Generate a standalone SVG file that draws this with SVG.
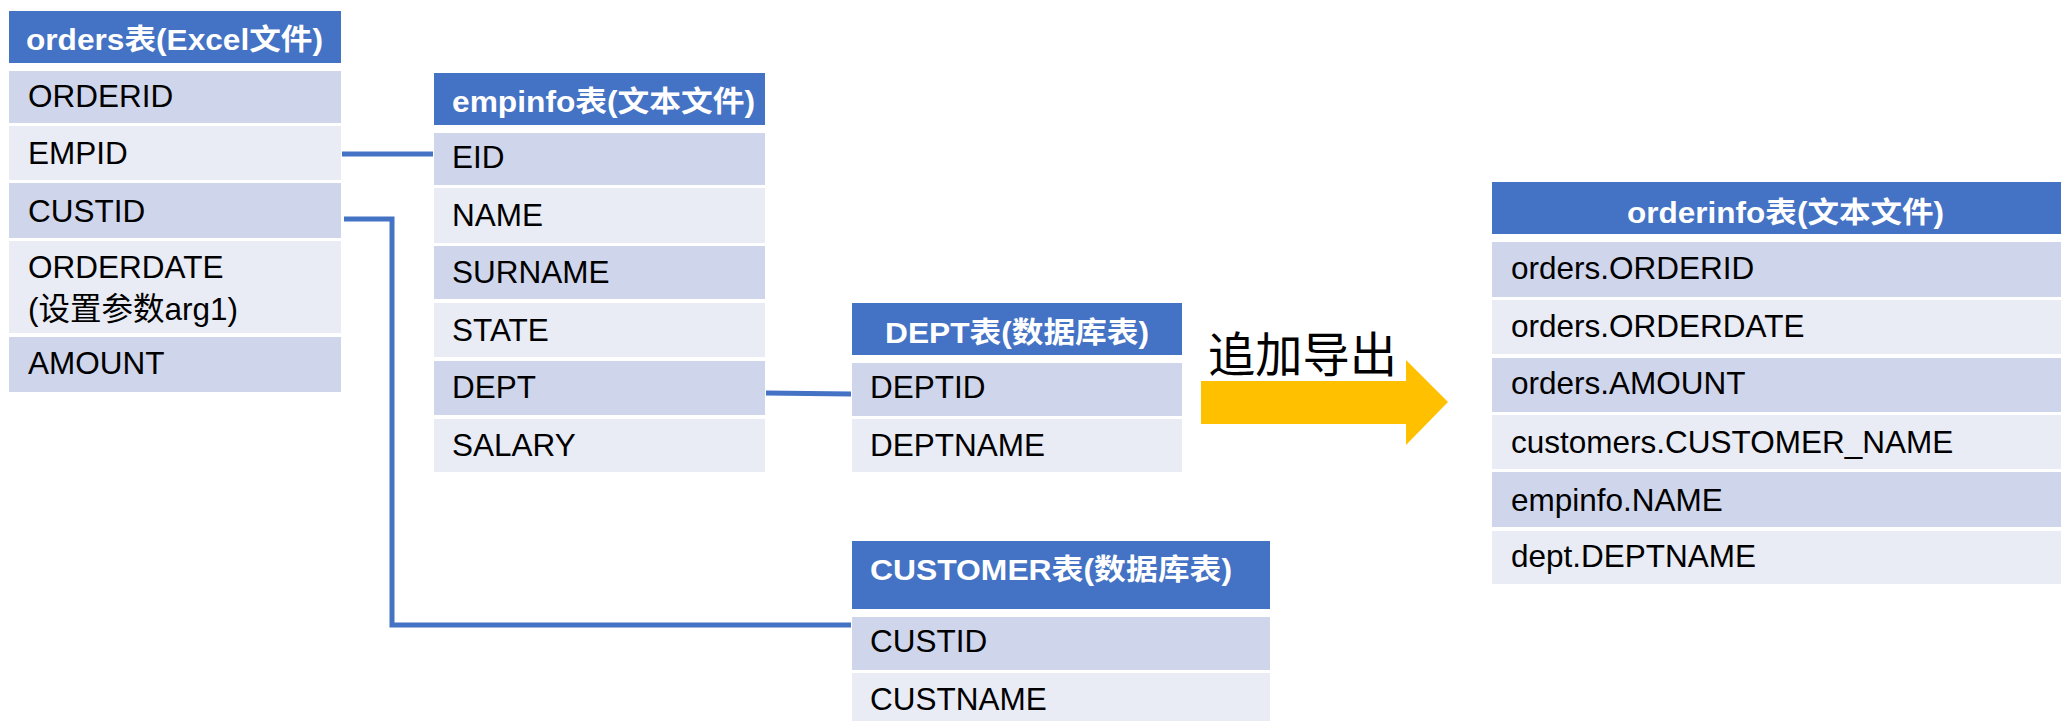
<svg xmlns="http://www.w3.org/2000/svg" width="2061" height="721" viewBox="0 0 2061 721">
<style>
.hd{fill:#4472C4}
.dk{fill:#CFD5EA}
.lt{fill:#E9EBF5}
.ht{font-family:"Liberation Sans","Noto Sans CJK SC",sans-serif;font-weight:bold;font-size:29px;fill:#FFFFFF}
.rt{font-family:"Liberation Sans","Noto Sans CJK SC",sans-serif;font-size:31.5px;fill:#000000}
.cn{fill:none;stroke:#4472C4;stroke-width:5}
</style>
<rect width="2061" height="721" fill="#FFFFFF"/>
<g id="connectors">
<path class="cn" d="M342,154 L433,154"/>
<path class="cn" d="M344,219 L392,219 L392,625 L851,625"/>
<path class="cn" d="M766,393 L851,394"/>
</g>
<g id="orders">
<rect class="hd" x="9" y="11" width="332" height="52"/>
<text class="ht" x="26" y="50" textLength="297" lengthAdjust="spacingAndGlyphs">orders表(Excel文件)</text>
<rect class="dk" x="9" y="71" width="332" height="52"/>
<text class="rt" x="28" y="107">ORDERID</text>
<rect class="lt" x="9" y="126" width="332" height="54"/>
<text class="rt" x="28" y="164">EMPID</text>
<rect class="dk" x="9" y="183" width="332" height="55"/>
<text class="rt" x="28" y="222">CUSTID</text>
<rect class="lt" x="9" y="241" width="332" height="92"/>
<text class="rt" x="28" y="278">ORDERDATE</text>
<text class="rt" x="28" y="320">(设置参数arg1)</text>
<rect class="dk" x="9" y="337" width="332" height="55"/>
<text class="rt" x="28" y="374">AMOUNT</text>
</g>
<g id="empinfo">
<rect class="hd" x="434" y="73" width="331" height="52"/>
<text class="ht" x="452" y="112" textLength="303" lengthAdjust="spacingAndGlyphs">empinfo表(文本文件)</text>
<rect class="dk" x="434" y="133" width="331" height="52"/>
<text class="rt" x="452" y="168">EID</text>
<rect class="lt" x="434" y="188" width="331" height="55"/>
<text class="rt" x="452" y="226">NAME</text>
<rect class="dk" x="434" y="246" width="331" height="53"/>
<text class="rt" x="452" y="283">SURNAME</text>
<rect class="lt" x="434" y="303" width="331" height="54"/>
<text class="rt" x="452" y="341">STATE</text>
<rect class="dk" x="434" y="361" width="331" height="54"/>
<text class="rt" x="452" y="398">DEPT</text>
<rect class="lt" x="434" y="419" width="331" height="53"/>
<text class="rt" x="452" y="456">SALARY</text>
</g>
<g id="dept">
<rect class="hd" x="852" y="303" width="330" height="52"/>
<text class="ht" x="885" y="343" textLength="264" lengthAdjust="spacingAndGlyphs">DEPT表(数据库表)</text>
<rect class="dk" x="852" y="363" width="330" height="53"/>
<text class="rt" x="870" y="398">DEPTID</text>
<rect class="lt" x="852" y="419" width="330" height="53"/>
<text class="rt" x="870" y="456">DEPTNAME</text>
</g>
<g id="customer">
<rect class="hd" x="852" y="541" width="418" height="68"/>
<text class="ht" x="870" y="580" textLength="362" lengthAdjust="spacingAndGlyphs">CUSTOMER表(数据库表)</text>
<rect class="dk" x="852" y="617" width="418" height="53"/>
<text class="rt" x="870" y="652">CUSTID</text>
<rect class="lt" x="852" y="673" width="418" height="48"/>
<text class="rt" x="870" y="710">CUSTNAME</text>
</g>
<g id="export-arrow">
<polygon points="1201,381 1406,381 1406,360 1448,402 1406,445 1406,424 1201,424" fill="#FFC000"/>
<text x="1208" y="372" font-family="'Noto Sans CJK SC',sans-serif" font-size="48" fill="#000000" textLength="189" lengthAdjust="spacingAndGlyphs">追加导出</text>
</g>
<g id="orderinfo">
<rect class="hd" x="1492" y="182" width="569" height="52"/>
<text class="ht" x="1627" y="223" textLength="317" lengthAdjust="spacingAndGlyphs">orderinfo表(文本文件)</text>
<rect class="dk" x="1492" y="242" width="569" height="55"/>
<text class="rt" x="1511" y="279">orders.ORDERID</text>
<rect class="lt" x="1492" y="300" width="569" height="54"/>
<text class="rt" x="1511" y="337">orders.ORDERDATE</text>
<rect class="dk" x="1492" y="358" width="569" height="54"/>
<text class="rt" x="1511" y="394">orders.AMOUNT</text>
<rect class="lt" x="1492" y="415" width="569" height="54"/>
<text class="rt" x="1511" y="453">customers.CUSTOMER_NAME</text>
<rect class="dk" x="1492" y="472" width="569" height="55"/>
<text class="rt" x="1511" y="511">empinfo.NAME</text>
<rect class="lt" x="1492" y="531" width="569" height="53"/>
<text class="rt" x="1511" y="567">dept.DEPTNAME</text>
</g>
</svg>
